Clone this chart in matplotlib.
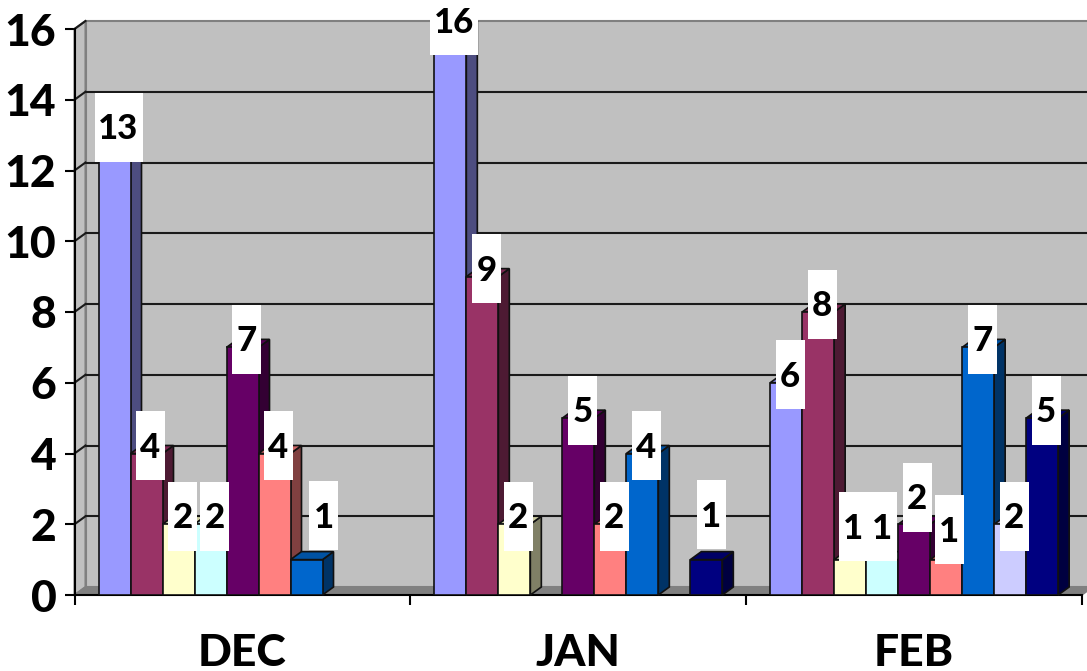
import matplotlib
matplotlib.use("Agg")
import matplotlib.pyplot as plt
from matplotlib.patches import Polygon, Rectangle

months = ["DEC", "JAN", "FEB"]
s1 = [13, 16, 6]
s2 = [4, 9, 8]
s3 = [2, 2, 1]
s4 = [2, 0, 1]
s5 = [7, 5, 2]
s6 = [4, 2, 1]
s7 = [1, 4, 7]
s8 = [0, 0, 2]
s9 = [0, 1, 5]
series = [s1, s2, s3, s4, s5, s6, s7, s8, s9]
colors = ["#9999FF", "#993366", "#FFFFCC", "#CCFFFF", "#660066",
          "#FF8080", "#0066CC", "#CCCCFF", "#000080"]

plt.rcParams["font.family"] = ["Lato", "DejaVu Sans"]

W, H = 1087, 671
fig = plt.figure(figsize=(W / 100, H / 100), dpi=100)
left, right, top, bottom = 74.5, 1082, 29, 595
ax = fig.add_axes([left / W, (H - bottom) / H, (right - left) / W, (bottom - top) / H])
ax.set_xlim(0, 3)
ax.set_ylim(0, 16)

# pixel sizes in data units
px = 3 / (right - left)
py = 16 / (bottom - top)
dx = 11 * px
dy = 8 * py
bar_w = 32 * px
gap = 24 * px


def darker(col, k):
    r, g, b = matplotlib.colors.to_rgb(col)
    return (r * k, g * k, b * k)


# walls and floor
ax.add_patch(Polygon([(dx, dy), (3 + dx, dy), (3 + dx, 16 + dy), (dx, 16 + dy)],
                     fc="#C0C0C0", ec="#808080", lw=1.5, zorder=1, clip_on=False))
ax.add_patch(Polygon([(0, 0), (dx, dy), (dx, 16 + dy), (0, 16)],
                     fc="#C0C0C0", ec="#808080", lw=1.5, zorder=1, clip_on=False))
ax.add_patch(Polygon([(0, 0), (3, 0), (3 + dx, dy), (dx, dy)],
                     fc="#808080", ec="#808080", lw=1, zorder=1, clip_on=False))
for v in range(2, 16, 2):
    ax.plot([dx, 3 + dx], [v + dy, v + dy], color="#1a1a1a", lw=1.5, zorder=2, clip_on=False)
for v in range(2, 18, 2):
    ax.plot([0, dx], [v, v + dy], color="#1a1a1a", lw=1.5, zorder=2, clip_on=False)

# bars, left to right so the next bar hides the side of the previous one
z = 3
for j, vals in enumerate(series):
    for i, v in enumerate(vals):
        if v == 0:
            continue
        x0 = i + gap + j * bar_w
        x1 = x0 + bar_w
        ax.add_patch(Polygon([(x1, 0), (x1 + dx, dy), (x1 + dx, v + dy), (x1, v)],
                             fc=darker(colors[j], 0.5), ec="#111111", lw=1.2, zorder=z, clip_on=False))
        ax.add_patch(Polygon([(x0, v), (x1, v), (x1 + dx, v + dy), (x0 + dx, v + dy)],
                             fc=darker(colors[j], 0.8), ec="#111111", lw=1.2, zorder=z, clip_on=False))
        ax.bar(x0, v, bar_w, align="edge", color=colors[j], edgecolor="#111111", lw=1.2, zorder=z + 0.5)
    z += 1

# hand placed data labels, (series, month): pixel offset from the bar top
label_shift = {(6, 0): (17, -44), (8, 1): (5, -45), (2, 2): (3, -33), (3, 2): (0, -33),
               (4, 2): (3, -27), (5, 2): (3, -30)}
for j, vals in enumerate(series):
    for i, v in enumerate(vals):
        if v == 0:
            continue
        cx = i + gap + (j + 0.5) * bar_w
        sx, sy = label_shift.get((j, i), (4, -8))
        tx = cx + sx * px
        ty = v - sy * py
        bw = (48 if v > 9 else 29) * px
        bh = 69 * py
        ax.add_patch(Rectangle((tx - bw / 2, ty - bh / 2), bw, bh, fc="white", ec="none",
                               zorder=30, clip_on=False))
        ax.text(tx, ty - 2 * py, str(v), ha="center", va="center", fontsize=25, fontweight="black",
                color="black", zorder=31, clip_on=False)

ax.set_yticks(range(0, 18, 2))
ax.set_xticks(range(4))
ax.set_xticklabels([])
ax.set_xticks([0.5, 1.5, 2.5], minor=True)
ax.set_xticklabels(months, minor=True)
ax.tick_params(axis="y", length=7, width=1.5, pad=6, labelsize=32)
ax.tick_params(axis="x", which="major", length=7, width=1.5)
ax.tick_params(axis="x", which="minor", length=0, pad=27, labelsize=32)
for lab in ax.get_yticklabels() + ax.get_xticklabels(minor=True):
    lab.set_fontweight("black")

for side in ["top", "right"]:
    ax.spines[side].set_visible(False)
for side in ["left", "bottom"]:
    ax.spines[side].set_linewidth(1.5)
    ax.spines[side].set_zorder(2.5)
ax.patch.set_alpha(0)

fig.savefig("out.png", dpi=100)
